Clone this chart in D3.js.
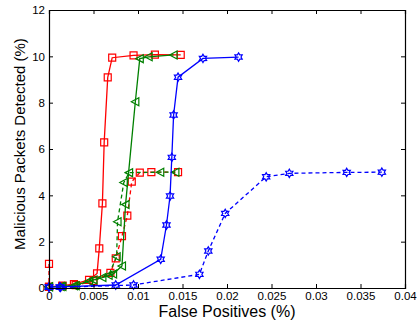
<!DOCTYPE html>
<html>
<head>
<meta charset="utf-8">
<script src="https://cdn.jsdelivr.net/npm/d3@7"></script>
<style>
  body { margin: 0; background: #fff; }
  svg text { font-family: "Liberation Sans", Arial, sans-serif; }
</style>
</head>
<body>
<div id="chart"></div>
<script>
// series values (false positives %, detected %)
const redSolidX   = [0, 0.0015, 0.0028, 0.0045, 0.0054, 0.00565, 0.0060, 0.0062, 0.0066, 0.0071, 0.0095, 0.0119, 0.0148];
const redSolidY   = [0.05, 0.1, 0.17, 0.35, 0.63, 1.71, 3.65, 6.29, 9.09, 9.94, 10.04, 10.07, 10.06];
const redDashX    = [0, 0, 0.0015, 0.003, 0.005, 0.0069, 0.0075, 0.0082, 0.0088, 0.0093, 0.0102, 0.0115, 0.0145];
const redDashY    = [1.04, 0.05, 0.08, 0.12, 0.3, 0.65, 1.28, 2.24, 3.12, 4.59, 4.98, 5.0, 5.0];
const greenSolidX = [0, 0.0013, 0.0028, 0.0045, 0.006, 0.0072, 0.0082, 0.0086, 0.0097, 0.0102, 0.0112, 0.0140];
const greenSolidY = [0.05, 0.07, 0.1, 0.3, 0.45, 0.6, 0.95, 3.6, 8.04, 9.9, 9.98, 10.06];
const greenDashX  = [0, 0.0015, 0.003, 0.005, 0.0067, 0.0076, 0.0077, 0.0084, 0.0090, 0.0125, 0.0142];
const greenDashY  = [0.05, 0.06, 0.1, 0.35, 0.55, 1.35, 2.86, 4.55, 4.98, 5.0, 5.0];
const blueSolidX  = [0, 0.0012, 0.0075, 0.01255, 0.0132, 0.0136, 0.0138, 0.0140, 0.0145, 0.0173, 0.0213];
const blueSolidY  = [0.05, 0.05, 0.13, 1.24, 2.72, 3.97, 5.64, 7.47, 9.1, 9.91, 9.97];
const blueDashX   = [0, 0.0013, 0.0095, 0.0169, 0.0179, 0.0198, 0.0244, 0.027, 0.03345, 0.0374];
const blueDashY   = [0.03, 0.03, 0.13, 0.59, 1.6, 3.22, 4.8, 4.95, 4.99, 5.0];

const xTicks = [0, 0.005, 0.01, 0.015, 0.02, 0.025, 0.03, 0.035, 0.04];
const yTicks = [0, 2, 4, 6, 8, 10, 12];

const WIDTH = 419, HEIGHT = 322;
const margin = {left: 49, right: 14, top: 10, bottom: 34};

const svg = d3.select("#chart").append("svg")
  .attr("width", WIDTH).attr("height", HEIGHT);

const x = d3.scaleLinear().domain([0, 0.04]).range([margin.left, WIDTH - margin.right]);
const y = d3.scaleLinear().domain([0, 12]).range([HEIGHT - margin.bottom, margin.top]);

// markers
function hexagram(r) {
  const pts = [];
  for (let i = 0; i < 12; i++) {
    const a = -Math.PI / 2 + i * Math.PI / 6;
    const rr = i % 2 === 0 ? r : r * 0.58;
    pts.push([rr * Math.cos(a), rr * Math.sin(a)]);
  }
  return "M" + pts.map(p => p.join(",")).join("L") + "Z";
}
const markers = {
  square: () => "M-3.5,-3.5H3.5V3.5H-3.5Z",
  tri: () => "M-4,0L3.5,-4L3.5,4Z",
  star: () => hexagram(4.2)
};

const series = [
  {xs: redSolidX,   ys: redSolidY,   color: "#ff0000", dash: null,  m: "square"},
  {xs: redDashX,    ys: redDashY,    color: "#ff0000", dash: "4,3", m: "square"},
  {xs: greenSolidX, ys: greenSolidY, color: "#008000", dash: null,  m: "tri"},
  {xs: greenDashX,  ys: greenDashY,  color: "#008000", dash: "4,3", m: "tri"},
  {xs: blueSolidX,  ys: blueSolidY,  color: "#0000ff", dash: null,  m: "star"},
  {xs: blueDashX,   ys: blueDashY,   color: "#0000ff", dash: "4,3", m: "star"}
];

const line = d3.line().x(d => x(d[0])).y(d => y(d[1]));

series.forEach(s => {
  const pts = s.xs.map((v, i) => [v, s.ys[i]]);
  svg.append("path")
    .attr("d", line(pts))
    .attr("fill", "none")
    .attr("stroke", s.color)
    .attr("stroke-width", 1.3)
    .attr("stroke-dasharray", s.dash);
  svg.selectAll(null).data(pts).enter().append("path")
    .attr("transform", d => "translate(" + x(d[0]) + "," + y(d[1]) + ")")
    .attr("d", markers[s.m]())
    .attr("fill", "none")
    .attr("stroke", s.color)
    .attr("stroke-width", 1.2);
});

// axes (ticks inward, box)
const tickLen = 4;
svg.append("g").attr("transform", "translate(0," + y(0) + ")")
  .call(d3.axisBottom(x).tickValues(xTicks).tickSize(-tickLen).tickPadding(4).tickFormat(d => d3.format("")(+d.toFixed(3))));
svg.append("g").attr("transform", "translate(0," + y(12) + ")")
  .call(d3.axisTop(x).tickValues(xTicks).tickSize(-tickLen).tickFormat(""));
svg.append("g").attr("transform", "translate(" + x(0) + ",0)")
  .call(d3.axisLeft(y).tickValues(yTicks).tickSize(-tickLen).tickPadding(4));
svg.append("g").attr("transform", "translate(" + x(0.04) + ",0)")
  .call(d3.axisRight(y).tickValues(yTicks).tickSize(-tickLen).tickFormat(""));

svg.selectAll(".domain").attr("stroke", "#000").attr("stroke-width", 1.2);
svg.selectAll(".tick line").attr("stroke", "#000");
svg.selectAll(".tick text").attr("font-size", 11.5).attr("fill", "#000")
  .style("font-family", "'Liberation Sans', Arial, sans-serif");

svg.append("text")
  .attr("x", (x(0) + x(0.04)) / 2).attr("y", 317)
  .attr("text-anchor", "middle").attr("font-size", 16)
  .text("False Positives (%)");
svg.append("text")
  .attr("transform", "translate(25,144) rotate(-90)")
  .attr("text-anchor", "middle").attr("font-size", 15)
  .text("Malicious Packets Detected (%)");
</script>
</body>
</html>
